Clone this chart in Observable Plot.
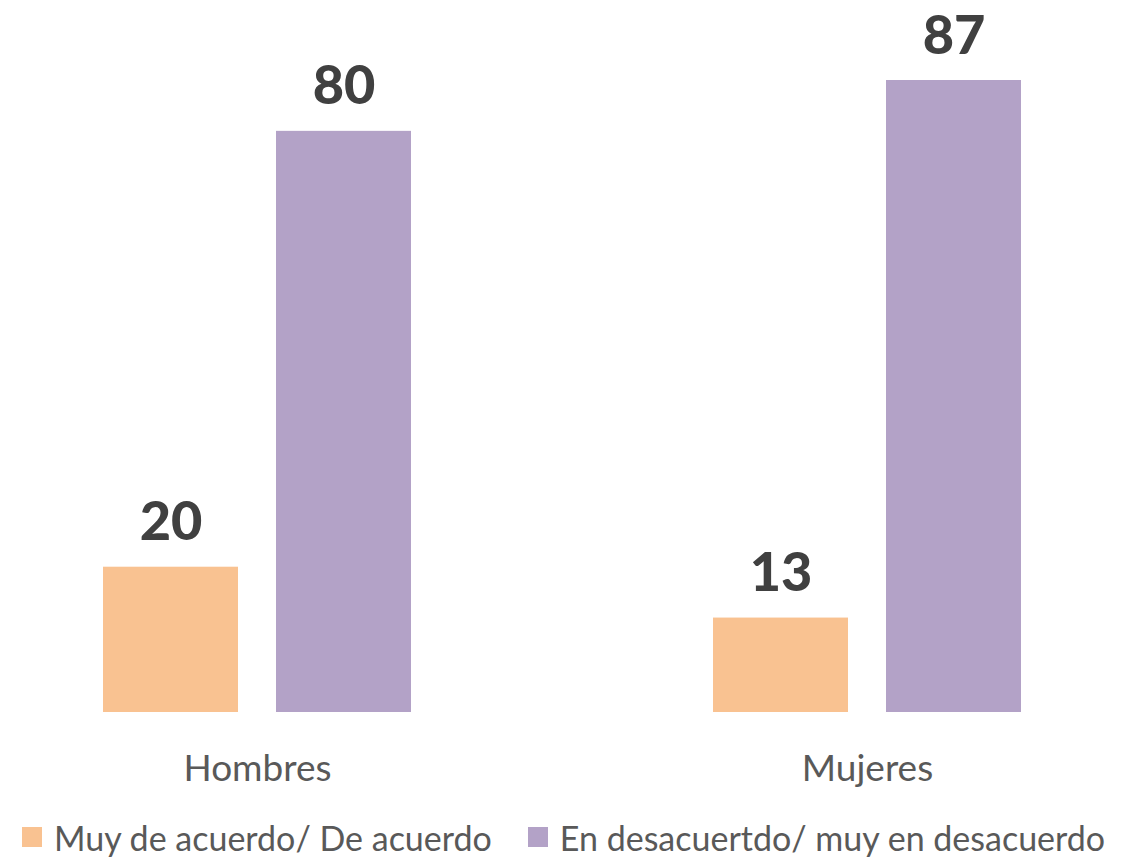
<!DOCTYPE html>
<html>
<head>
<meta charset="utf-8">
<script src="https://cdn.jsdelivr.net/npm/d3@7"></script>
<script src="https://cdn.jsdelivr.net/npm/@observablehq/plot@0.6"></script>
<style>
  html, body { margin: 0; padding: 0; background: #fff; }
  #chart { width: 1122px; }
  .legend { display: flex; align-items: center; font-family: Lato, "Open Sans", sans-serif; font-size: 34px; color: #595959; height: 58px; margin-top: 8px; padding-left: 22px; white-space: nowrap; }
  .legend .item { display: flex; align-items: center; margin-right: 36px; }
  .legend .sw { width: 20px; height: 20px; margin-right: 12px; }
</style>
</head>
<body>
<div id="chart"></div>
<script>
const groups = ["Hombres", "Mujeres"];
const series = ["Muy de acuerdo/ De acuerdo", "En desacuertdo/ muy en desacuerdo"];
const acuerdo = [20, 13];
const desacuerdo = [80, 87];
const colors = ["#F9C291", "#B3A2C7"];

const data = [];
groups.forEach((g, i) => {
  data.push({group: g, serie: series[0], value: acuerdo[i]});
  data.push({group: g, serie: series[1], value: desacuerdo[i]});
});

const chart = Plot.plot({
  width: 1122,
  height: 800,
  marginLeft: 101,
  marginRight: 100,
  marginTop: 80,
  marginBottom: 88,
  style: {fontFamily: "Lato, 'Open Sans', sans-serif", background: "#fff"},
  fx: {domain: groups, paddingInner: 0.492, paddingOuter: 0, label: null},
  x: {domain: series, paddingInner: 0.218, paddingOuter: 0, axis: null},
  y: {domain: [0, 87], axis: null},
  color: {domain: series, range: colors},
  marks: [
    Plot.barY(data, {fx: "group", x: "serie", y: "value", fill: "serie"}),
    Plot.text(data, {fx: "group", x: "serie", y: "value", text: d => String(d.value),
      lineAnchor: "bottom", dy: -27, fontSize: 54, fontWeight: 900, fill: "#404040"}),
    Plot.axisFx({anchor: "bottom", tickSize: 0, tickPadding: 42, fontSize: 37, label: null, color: "#595959"})
  ]
});
document.getElementById("chart").appendChild(chart);

const legend = document.createElement("div");
legend.className = "legend";
series.forEach((s, i) => {
  const item = document.createElement("div");
  item.className = "item";
  const sw = document.createElement("span");
  sw.className = "sw";
  sw.style.background = colors[i];
  const t = document.createElement("span");
  t.textContent = s;
  item.appendChild(sw);
  item.appendChild(t);
  legend.appendChild(item);
});
document.getElementById("chart").appendChild(legend);
</script>
</body>
</html>
